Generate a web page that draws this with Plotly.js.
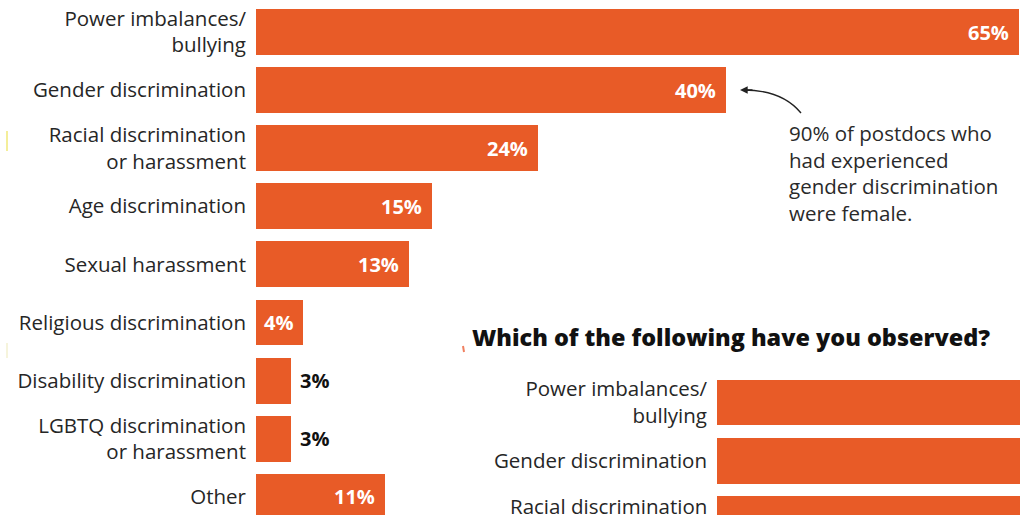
<!DOCTYPE html>
<html>
<head>
<meta charset="utf-8">
<script src="https://cdn.plot.ly/plotly-3.0.1.min.js"></script>
<style>
  html, body { margin: 0; padding: 0; background: #ffffff; }
  #chart { width: 1020px; height: 515px; }
</style>
</head>
<body>
<div id="chart"></div>
<script>
// ---- data ----
const experiencedCategories = [
  "Power imbalances/<br>bullying",
  "Gender discrimination",
  "Racial discrimination<br>or harassment",
  "Age discrimination",
  "Sexual harassment",
  "Religious discrimination",
  "Disability discrimination",
  "LGBTQ discrimination<br>or harassment",
  "Other"
];
const experiencedValues = [65, 40, 24, 15, 13, 4, 3, 3, 11];

const observedTitle = "Which of the following have you observed?";
const observedCategories = [
  "Power imbalances/<br>bullying",
  "Gender discrimination",
  "Racial discrimination<br>or harassment"
];
// bars run off the right edge of the picture; values estimated
const observedValues = [80, 64, 46];

const noteText = "90% of postdocs who<br>had experienced<br>gender discrimination<br>were female.";

// ---- style ----
const W = 1020, H = 515;
const ORANGE = "#E85B27";
const FONT = "Open Sans, Liberation Sans, Arial, sans-serif";
const TXT = "#262626";
const LABEL_SIZE = 20.5;
const leftX0 = 256, rightX0 = 717;
const rowPx = 58.1;
const leftMax = 65.05;
const pxPerUnit = (W - leftX0) / leftMax;

const px = v => v / W;
const py = v => 1 - v / H;

const traces = [
  {
    type: "bar", orientation: "h",
    x: experiencedValues, y: experiencedCategories,
    xaxis: "x", yaxis: "y",
    marker: { color: ORANGE },
    width: 0.79, hoverinfo: "skip"
  },
  {
    type: "bar", orientation: "h",
    x: observedValues, y: observedCategories,
    xaxis: "x2", yaxis: "y2",
    marker: { color: ORANGE },
    width: 0.79, hoverinfo: "skip"
  }
];

// value labels
const annotations = experiencedValues.map((v, i) => {
  const inside = v >= 4;
  return {
    xref: "x", yref: "y",
    x: v, y: experiencedCategories[i],
    text: v + "%",
    showarrow: false,
    xanchor: inside ? "right" : "left",
    xshift: inside ? -8 : 7,
    font: { family: FONT, size: 20, weight: 700, color: inside ? "#ffffff" : "#111111" }
  };
});

// note text
annotations.push({
  xref: "paper", yref: "paper",
  x: px(787), y: py(117),
  xanchor: "left", yanchor: "top",
  align: "left",
  text: noteText,
  showarrow: false,
  font: { family: FONT, size: LABEL_SIZE, color: "#2a2a2a" }
});
// arrow head
annotations.push({
  xref: "paper", yref: "paper",
  x: px(740), y: py(90),
  ax: 14, ay: 0,
  text: "",
  showarrow: true,
  arrowhead: 2, arrowsize: 1.1, arrowwidth: 1.4,
  arrowcolor: "#222222"
});
// title of second chart
annotations.push({
  xref: "paper", yref: "paper",
  x: px(470), y: py(337),
  xanchor: "left", yanchor: "middle",
  text: observedTitle,
  showarrow: false,
  font: { family: FONT, size: 23.4, weight: 800, color: "#111111" }
});

// axis ranges derived from pixel layout
const leftTop = -32 / rowPx;
const leftBottom = leftTop + H / rowPx;
const y2DomainTopPx = 360;
const y2Top = -(402.5 - y2DomainTopPx) / rowPx;
const y2Bottom = y2Top + (H - y2DomainTopPx) / rowPx;

// tick label of the observed category that sits partly below the picture edge
// (plotly drops ticks outside the range, so it is placed via the y2 domain)
observedCategories.forEach((c, i) => {
  const frac = (y2Bottom - i) / (y2Bottom - y2Top);
  if (frac < 0) {
    annotations.push({
      xref: "x2 domain", yref: "y2 domain",
      x: 0, y: frac,
      xanchor: "right", yanchor: "middle", align: "right",
      xshift: -8, yshift: -1,
      text: c, showarrow: false,
      font: { family: FONT, size: LABEL_SIZE, color: TXT }
    });
  }
});

const shapes = [
  // curved arrow body
  {
    type: "path", xref: "paper", yref: "paper",
    path: `M ${px(801)} ${py(113)} Q ${px(782)} ${py(90)} ${px(744)} ${py(90)}`,
    line: { color: "#222222", width: 1.4 }
  },
  // small crop artefacts
  { type: "line", xref: "paper", yref: "paper", x0: px(7), x1: px(7), y0: py(131), y1: py(151),
    line: { color: "#f4ee9a", width: 2 } },
  { type: "line", xref: "paper", yref: "paper", x0: px(7), x1: px(7), y0: py(343), y1: py(358),
    line: { color: "#f3f0d0", width: 1.5 } },
  { type: "line", xref: "paper", yref: "paper", x0: px(463), x1: px(464), y0: py(346), y1: py(352),
    line: { color: "#f08060", width: 2 } }
];

const layout = {
  width: W, height: H,
  margin: { l: 0, r: 0, t: 0, b: 0, pad: 0 },
  paper_bgcolor: "#ffffff",
  plot_bgcolor: "rgba(0,0,0,0)",
  showlegend: false,
  bargap: 0,
  xaxis: {
    domain: [leftX0 / W, 1],
    range: [0, leftMax],
    visible: false, fixedrange: true
  },
  yaxis: {
    domain: [0, 1],
    type: "category",
    categoryorder: "array", categoryarray: experiencedCategories,
    range: [leftBottom, leftTop],
    showgrid: false, zeroline: false, showline: false,
    ticks: "", ticklabelstandoff: 9,
    anchor: "x",
    tickfont: { family: FONT, size: LABEL_SIZE, color: TXT },
    fixedrange: true
  },
  xaxis2: {
    domain: [rightX0 / W, 1],
    range: [0, (W - rightX0) / pxPerUnit],
    anchor: "y2",
    visible: false, fixedrange: true
  },
  yaxis2: {
    domain: [0, 1 - y2DomainTopPx / H],
    type: "category",
    categoryorder: "array", categoryarray: observedCategories,
    range: [y2Bottom, y2Top],
    anchor: "x2",
    showgrid: false, zeroline: false, showline: false,
    ticks: "", ticklabelstandoff: 9,
    tickfont: { family: FONT, size: LABEL_SIZE, color: TXT },
    fixedrange: true
  },
  annotations: annotations,
  shapes: shapes
};

Plotly.newPlot("chart", traces, layout, { displayModeBar: false, staticPlot: true });
</script>
</body>
</html>
